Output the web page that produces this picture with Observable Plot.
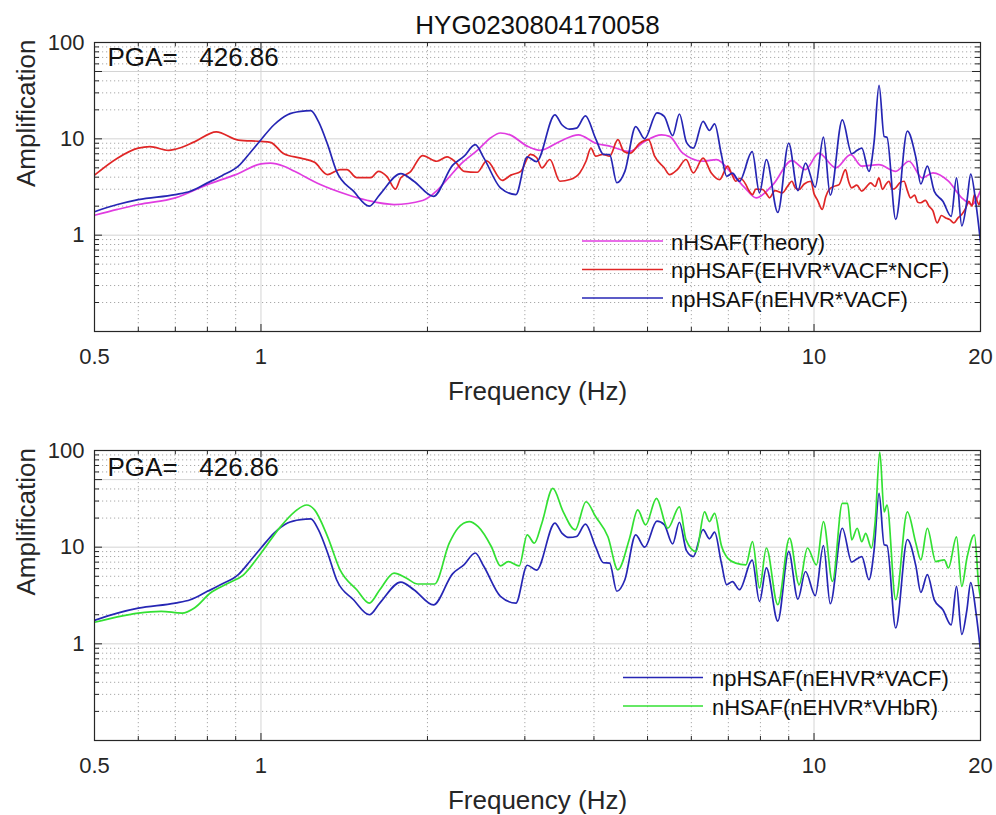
<!DOCTYPE html>
<html>
<head>
<meta charset="utf-8">
<script src="https://cdn.jsdelivr.net/npm/d3@7"></script>
<script src="https://cdn.jsdelivr.net/npm/@observablehq/plot@0.6"></script>
<style>
  body { margin: 0; background: #fff; }
  #chart svg { display: block; }
</style>
</head>
<body>
<div id="chart"></div>
<script>
// ---------- texts ----------
const titleText = "HYG0230804170058";
const pgaText = "PGA=\u00a0\u00a0\u00a0426.86";
const xLabel = "Frequency (Hz)";
const yLabel = "Amplification";

// ---------- ticks ----------
const xTickValues = [0.5, 1, 10, 20];
const xMinorValues = [0.6, 0.7, 0.8, 0.9, 2, 3, 4, 5, 6, 7, 8, 9];
const yTickValues = [1, 10, 50, 100];
const yMinorValues = [0.2, 0.3, 0.4, 0.5, 0.6, 0.7, 0.8, 0.9, 2, 3, 4, 5, 6, 7, 8, 9, 20, 30, 40, 60, 70, 80, 90];
const xMajorGrid = [1, 10];
const yMajorGrid = [1, 10, 50];

// ---------- series: [frequency (Hz), amplification] ----------
const nHSAF_Theory = [
  [0.5,1.61],[0.55,1.85],[0.6,2.08],[0.7,2.44],[0.8,3.35],[0.9,4.25],[1.0,5.5],[1.04,5.6],[1.1,5.2],[1.15,4.6],
  [1.28,3.35],[1.43,2.64],[1.56,2.29],[1.74,2.08],[1.96,2.29],[2.08,2.9],[2.17,3.78],[2.3,5.5],[2.47,7.73],[2.6,10.2],
  [2.71,11.5],[2.82,11.0],[3.03,8.4],[3.2,7.6],[3.47,9.4],[3.75,11.0],[4.03,9.0],[4.27,8.4],[4.64,7.4],[4.94,9.4],
  [5.3,11.0],[5.48,10.6],[5.79,7.1],[6.3,5.85],[6.66,6.09],[7.13,4.25],[7.5,3.1],[7.86,2.44],[8.43,3.35],[9.12,5.95],
  [9.65,4.8],[10.2,7.1],[10.95,5.0],[11.65,6.85],[12.2,5.2],[13.1,5.4],[14.05,4.6],[14.85,5.85],[15.7,3.93],[16.4,4.43],
  [17.5,3.63],[18.5,2.44],[19.3,2.08],[20,2.9]
];

const npHSAF_EHVR_VACF_NCF = [
  [0.5,4.2],[0.55,6.3],[0.6,8.0],[0.63,8.3],[0.68,7.6],[0.7,7.8],[0.758,9.3],[0.83,11.8],[0.91,9.7],[1.0,9.4],
  [1.04,9.2],[1.1,7.0],[1.18,6.3],[1.25,5.7],[1.32,4.25],[1.39,4.8],[1.43,4.8],[1.49,3.95],[1.58,3.95],[1.63,4.6],
  [1.69,4.05],[1.75,3.0],[1.79,3.95],[1.86,4.5],[1.96,6.7],[2.08,5.85],[2.17,6.5],[2.25,5.7],[2.33,4.6],[2.46,4.5],
  [2.56,5.9],[2.73,3.7],[2.83,4.2],[2.95,4.6],[3.07,6.9],[3.15,6.4],[3.22,5.0],[3.33,6.1],[3.47,3.63],[3.62,3.78],
  [3.77,4.43],[3.87,5.85],[3.95,8.0],[4.03,6.6],[4.15,6.9],[4.27,6.6],[4.42,9.8],[4.53,7.4],[4.65,7.1],[4.84,9.0],
  [5.02,9.8],[5.15,6.6],[5.36,5.0],[5.48,4.25],[5.66,4.8],[5.87,6.1],[6.05,4.43],[6.3,6.3],[6.52,4.43],[6.75,3.78],
  [6.98,5.2],[7.1,4.3],[7.22,3.63],[7.35,3.9],[7.53,3.35],[7.6,3.0],[7.74,2.64],[7.85,3.0],[8.07,2.98],[8.2,2.7],
  [8.31,2.44],[8.5,2.9],[8.77,2.75],[8.95,3.2],[9.12,3.63],[9.25,3.1],[9.4,2.98],[9.6,3.4],[9.87,3.63],[10.0,2.7],
  [10.15,2.3],[10.35,1.85],[10.5,2.5],[10.65,2.98],[10.85,3.2],[11.1,3.35],[11.4,4.8],[11.55,3.6],[11.7,3.1],[11.95,3.3],
  [12.2,2.86],[12.45,3.2],[12.66,3.49],[12.9,3.2],[13.1,3.93],[13.3,2.98],[13.5,3.4],[13.66,3.63],[13.85,3.0],[14.05,3.1],
  [14.3,3.5],[14.55,3.63],[14.75,2.9],[14.95,2.44],[15.2,2.6],[15.4,2.2],[15.6,2.17],[15.9,2.3],[16.14,2.0],[16.4,1.8],
  [16.7,1.34],[17.0,1.6],[17.3,1.51],[17.6,1.45],[17.9,1.34],[18.2,1.5],[18.5,1.64],[18.8,1.9],[19.06,2.25],[19.3,2.0],
  [19.5,2.64],[19.7,2.3],[19.87,2.08],[20,2.3]
];

const npHSAF_nEHVR_VACF = [
  [0.5,1.75],[0.55,2.08],[0.6,2.34],[0.7,2.64],[0.745,2.86],[0.8,3.49],[0.85,4.15],[0.91,5.2],[0.96,7.4],[1.0,9.8],
  [1.056,14.0],[1.117,17.8],[1.18,19.3],[1.23,19.6],[1.27,15.2],[1.32,8.7],[1.37,4.6],[1.47,2.86],[1.57,2.0],[1.64,2.64],
  [1.79,4.35],[1.89,3.63],[2.05,2.53],[2.22,5.3],[2.33,6.6],[2.44,8.7],[2.53,6.3],[2.71,3.1],[2.89,2.64],[3.03,6.5],
  [3.15,5.8],[3.4,17.7],[3.5,14.0],[3.61,12.6],[3.72,12.9],[3.86,17.3],[4.03,10.0],[4.16,6.9],[4.27,6.85],[4.4,3.5],
  [4.55,4.6],[4.76,13.4],[4.94,10.0],[5.2,18.6],[5.36,17.1],[5.55,10.8],[5.71,18.1],[5.88,9.2],[6.05,8.0],[6.3,15.2],
  [6.47,12.2],[6.61,14.3],[6.8,6.85],[6.95,4.09],[7.12,4.4],[7.33,3.63],[7.73,7.35],[7.97,2.75],[8.2,6.1],[8.6,1.72],
  [9.0,9.0],[9.35,2.9],[9.65,5.6],[10.05,3.15],[10.4,10.4],[10.7,2.6],[11.25,15.7],[11.7,7.0],[11.97,7.6],[12.2,8.0],
  [12.57,4.6],[12.84,9.2],[13.11,36],[13.39,10.6],[13.55,10.4],[14.05,1.46],[14.75,12.0],[15.28,6.4],[15.6,3.4],[16.03,5.2],
  [16.5,2.85],[17.1,2.25],[17.7,1.57],[18.1,3.93],[18.5,1.25],[18.9,2.25],[19.2,4.3],[19.65,2.0],[20,0.85]
];

const nHSAF_nEHVR_VHbR = [
  [0.5,1.67],[0.55,1.9],[0.6,2.08],[0.66,2.17],[0.72,2.08],[0.758,2.35],[0.81,3.36],[0.87,4.2],[0.93,5.18],[1.0,8.66],
  [1.085,16.3],[1.15,23.2],[1.21,27.3],[1.25,24.3],[1.32,12.8],[1.39,5.83],[1.49,3.63],[1.57,2.64],[1.64,3.63],[1.74,5.4],
  [1.83,4.8],[1.92,4.16],[2.06,4.16],[2.19,11.0],[2.27,15.7],[2.38,18.4],[2.47,16.3],[2.61,10.1],[2.71,6.4],[2.8,7.1],
  [2.93,6.4],[3.03,13.4],[3.12,11.0],[3.22,17.7],[3.37,40.5],[3.52,23.2],[3.7,15.1],[3.87,29.5],[4.03,20.6],[4.24,12.8],
  [4.42,5.83],[4.64,12.4],[4.8,24.3],[4.96,17.0],[5.19,32],[5.44,15.7],[5.71,26.1],[5.87,11.9],[6.12,9.0],[6.34,23.2],
  [6.47,18.4],[6.61,22.4],[6.8,10.4],[6.98,7.7],[7.22,6.84],[7.53,6.56],[7.74,11.4],[7.97,3.78],[8.2,9.8],[8.6,2.54],
  [9.03,12.4],[9.4,4.09],[9.73,9.8],[10.1,6.56],[10.4,18.4],[10.8,4.42],[11.25,28.4],[11.5,28.4],[11.7,11.9],[11.97,15.7],
  [12.2,11.4],[12.4,13.9],[12.7,9.8],[12.9,18.4],[13.15,96],[13.39,23.2],[13.55,27.3],[14.05,2.86],[14.75,23.2],[15.28,11.0],
  [15.6,7.4],[16.03,15.7],[16.6,7.1],[17.2,7.4],[17.5,6.1],[18.1,12.8],[18.5,3.93],[18.9,7.7],[19.5,13.4],[19.87,3.78],
  [20,3.0]
];

const topLegend = [
  {label: "nHSAF(Theory)", color: "#e03ce0"},
  {label: "npHSAF(EHVR*VACF*NCF)", color: "#e02626"},
  {label: "npHSAF(nEHVR*VACF)", color: "#2626b4"}
];
const bottomLegend = [
  {label: "npHSAF(nEHVR*VACF)", color: "#2626b4"},
  {label: "nHSAF(nEHVR*VHbR)", color: "#33e033"}
];

// ---------- layout ----------
const FONT = "'Liberation Sans', Arial, Helvetica, sans-serif";
const W = 996, ML = 94, MR = 16, MT = 42;
const PW = W - ML - MR;
const AX = "#262626";

function panel({height, marginBottom, series, legend, legendX, legendTextX, legendY0, title}) {
  const PH = height - MT - marginBottom;
  const marks = [
    Plot.gridX(xMinorValues, {stroke: "#9a9a9a", strokeOpacity: 0.85, strokeDasharray: "1.2,2.8"}),
    Plot.gridY(yMinorValues, {stroke: "#9a9a9a", strokeOpacity: 0.85, strokeDasharray: "1.2,2.8"}),
    Plot.gridX(xMajorGrid, {stroke: "#d4d4d4", strokeOpacity: 1}),
    Plot.gridY(yMajorGrid, {stroke: "#d4d4d4", strokeOpacity: 1}),
    ...series.map(s => Plot.line(s.data, {x: d => d[0], y: d => d[1], stroke: s.color, strokeWidth: 1.7, curve: "monotone-x", clip: true})),
    // inward ticks (bottom, top, left, right)
    Plot.tickX(xTickValues, {x: d => d, insetTop: PH - 7, stroke: AX}),
    Plot.tickX(xMinorValues, {x: d => d, insetTop: PH - 4, stroke: AX}),
    Plot.tickX(xTickValues, {x: d => d, insetBottom: PH - 7, stroke: AX}),
    Plot.tickX(xMinorValues, {x: d => d, insetBottom: PH - 4, stroke: AX}),
    Plot.tickY(yTickValues, {y: d => d, insetRight: PW - 8, stroke: AX}),
    Plot.tickY(yMinorValues, {y: d => d, insetRight: PW - 5, stroke: AX}),
    Plot.tickY(yTickValues, {y: d => d, insetLeft: PW - 8, stroke: AX}),
    Plot.tickY(yMinorValues, {y: d => d, insetLeft: PW - 5, stroke: AX}),
    Plot.frame({stroke: AX, strokeWidth: 1.2}),
    Plot.axisX(xTickValues, {tickSize: 0, tickPadding: 17, fontSize: 22, fill: "#262626", tickFormat: d => String(d), label: null}),
    Plot.axisY(yTickValues, {tickSize: 0, tickPadding: 10, fontSize: 22, fill: "#262626", tickFormat: d => String(d), label: null}),
    Plot.text([xLabel], {text: d => d, frameAnchor: "bottom", dy: 50, lineAnchor: "top", fontSize: 26, fill: "#262626"}),
    Plot.text([yLabel], {text: d => d, frameAnchor: "left", dx: -68, rotate: -90, lineAnchor: "middle", fontSize: 26, fill: "#262626"}),
    Plot.text([pgaText], {text: d => d, frameAnchor: "top-left", dx: 13, dy: title ? 23 : 25, lineAnchor: "bottom", textAnchor: "start", fontSize: 26, fill: "#111"})
  ];
  if (title) {
    marks.push(Plot.text([title], {text: d => d, frameAnchor: "top", dy: -9, lineAnchor: "bottom", fontSize: 26, fill: "#111"}));
  }
  const svg = Plot.plot({
    width: W, height,
    marginTop: MT, marginBottom, marginLeft: ML, marginRight: MR,
    x: {type: "log", domain: [0.5, 20]},
    y: {type: "log", domain: [0.1, 100]},
    style: {fontFamily: FONT, background: "white", overflow: "visible"},
    marks
  });
  const g = d3.select(svg).append("g")
    .attr("font-family", FONT).attr("font-size", 22).attr("text-anchor", "start");
  legend.forEach((it, i) => {
    const y = legendY0 + i * 28.5;
    g.append("line").attr("x1", legendX[0]).attr("x2", legendX[1]).attr("y1", y).attr("y2", y)
      .attr("stroke", it.color).attr("stroke-width", 1.7);
    g.append("text").attr("x", legendTextX).attr("y", y + 8.5)
      .attr("text-anchor", "start").attr("fill", "#111").text(it.label);
  });
  return svg;
}

const chart = document.getElementById("chart");
chart.appendChild(panel({
  height: 408, marginBottom: 77, title: titleText,
  series: [
    {data: nHSAF_Theory, color: topLegend[0].color},
    {data: npHSAF_EHVR_VACF_NCF, color: topLegend[1].color},
    {data: npHSAF_nEHVR_VACF, color: topLegend[2].color}
  ],
  legend: topLegend, legendX: [582, 663], legendTextX: 671, legendY0: 241
}));
chart.appendChild(panel({
  height: 407, marginBottom: 75, title: null,
  series: [
    {data: npHSAF_nEHVR_VACF, color: bottomLegend[0].color},
    {data: nHSAF_nEHVR_VHbR, color: bottomLegend[1].color}
  ],
  legend: bottomLegend, legendX: [623, 703], legendTextX: 712, legendY0: 269.5
}));
</script>
</body>
</html>
